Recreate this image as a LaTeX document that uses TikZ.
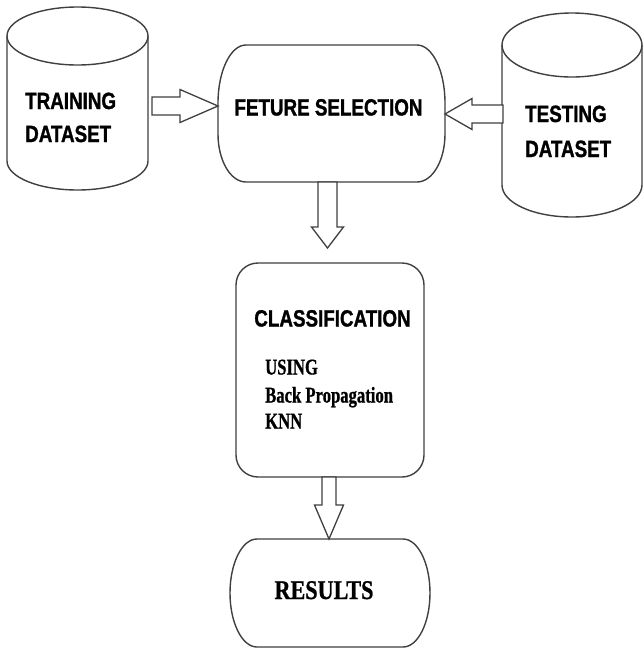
\documentclass[tikz,border=0pt]{standalone}
\usepackage{fontspec}
\usetikzlibrary{calc}
\newfontfamily\hdfont[FakeStretch=0.8,FakeBold=1.2]{Liberation Sans}
\newfontfamily\srfont[FakeStretch=0.74,FakeBold=0.8]{Liberation Serif}
\newfontfamily\resfont[FakeStretch=0.82,FakeBold=0.8]{Liberation Serif}
\tikzset{
  outline/.style={draw=black!75, line width=1.4pt, fill=white},
  blk/.style={draw=black!75, line width=1.3pt, fill=white, line join=miter},
  hd/.style={inner sep=0pt, anchor=base west, font=\hdfont\bfseries\fontsize{23.5}{28}\selectfont},
  sr/.style={inner sep=0pt, anchor=base west, font=\srfont\bfseries\fontsize{22.5}{27}\selectfont},
  rs/.style={inner sep=0pt, anchor=base, font=\resfont\bfseries\fontsize{27}{32}\selectfont},
  area/.style={inner sep=0pt, outer sep=0pt},
}
\begin{document}
\begin{tikzpicture}[x=1pt,y=-1pt]
\useasboundingbox[fill=white] (0,0) rectangle (644,654);

% shape areas
\node[area, minimum width=141pt, minimum height=183pt] (train) at (77.5,98.5) {};
\node[area, minimum width=227pt, minimum height=137pt] (feat) at (331.5,113.5) {};
\node[area, minimum width=140pt, minimum height=204pt] (test) at (572,115) {};
\node[area, minimum width=188pt, minimum height=214pt] (cls) at (330,370) {};
\node[area, minimum width=199pt, minimum height=108pt] (res) at (330.5,593) {};

% training cylinder
\draw[outline] (7,36) -- (7,161) arc[start angle=180,end angle=360,x radius=70.5pt,y radius=29pt] -- (148,36);
\draw[outline] (77.5,36) ellipse[x radius=70.5pt,y radius=29pt];

% testing cylinder
\draw[outline] (502,45) -- (502,185) arc[start angle=180,end angle=360,x radius=70pt,y radius=32pt] -- (642,45);
\draw[outline] (572,45) ellipse[x radius=70pt,y radius=32pt];

% feature selection box
\draw[outline] (246,45) -- (417,45)
  arc[start angle=90,end angle=0,x radius=28pt,y radius=58pt] -- (445,134)
  arc[start angle=0,end angle=-90,x radius=28pt,y radius=48pt] -- (246,182)
  arc[start angle=270,end angle=180,x radius=28pt,y radius=48pt] -- (218,103)
  arc[start angle=180,end angle=90,x radius=28pt,y radius=58pt] -- cycle;

% classification box
\draw[outline, rounded corners=22pt] (236,263) rectangle (424,477);

% results box
\draw[outline] (257,539) -- (403,539)
  arc[start angle=90,end angle=-90,x radius=27pt,y radius=54pt] -- (257,647)
  arc[start angle=270,end angle=90,x radius=27pt,y radius=54pt] -- cycle;

% texts
\node[hd] (t1) at (25,109) {TRAINING};
\node[hd] (t2) at (25,142) {DATASET};
\node[hd] (s1) at (525,122) {TESTING};
\node[hd] (s2) at (525,157) {DATASET};
\node[hd, anchor=base] (ft) at (328.5,115.5) {FETURE SELECTION};
\node[hd, anchor=base] (ct) at (332.5,326.5) {CLASSIFICATION};
\node[sr] (u1) at (265,374.5) {USING};
\node[sr] (u2) at (265,402.5) {Back Propagation};
\node[sr] (u3) at (265,428.5) {KNN};
\node[rs] (rt) at (324,599) {RESULTS};

% block arrows
\coordinate (a1s) at ($(train.east)+(4,7.5)$);
\coordinate (a1t) at (feat.west|-a1s);
\draw[blk] ($(a1s)+(0,-9)$) -- ($(a1t)+(-38,-9)$) -- ($(a1t)+(-38,-16.5)$) -- (a1t)
  -- ($(a1t)+(-38,16.5)$) -- ($(a1t)+(-38,9)$) -- ($(a1s)+(0,9)$) -- cycle;

\coordinate (a2s) at ($(test.west)+(1,-1)$);
\coordinate (a2t) at (feat.east|-a2s);
\draw[blk] ($(a2s)+(0,-9)$) -- ($(a2t)+(27,-9)$) -- ($(a2t)+(27,-15.5)$) -- (a2t)
  -- ($(a2t)+(27,15.5)$) -- ($(a2t)+(27,9)$) -- ($(a2s)+(0,9)$) -- cycle;

\coordinate (a3s) at ($(feat.south)+(-4,0)$);
\coordinate (a3t) at ($(cls.north-|a3s)+(0,-15)$);
\draw[blk] ($(a3s)+(-9.5,0)$) -- ($(a3t)+(-9.5,-21)$) -- ($(a3t)+(-16,-21)$) -- (a3t)
  -- ($(a3t)+(16,-21)$) -- ($(a3t)+(9.5,-21)$) -- ($(a3s)+(9.5,0)$) -- cycle;

\coordinate (a4s) at ($(cls.south)+(-1,0)$);
\coordinate (a4t) at (res.north-|a4s);
\draw[blk] ($(a4s)+(-7,0)$) -- ($(a4t)+(-7,-34)$) -- ($(a4t)+(-14.5,-34)$) -- (a4t)
  -- ($(a4t)+(14.5,-34)$) -- ($(a4t)+(7,-34)$) -- ($(a4s)+(7,0)$) -- cycle;
\end{tikzpicture}
\end{document}
